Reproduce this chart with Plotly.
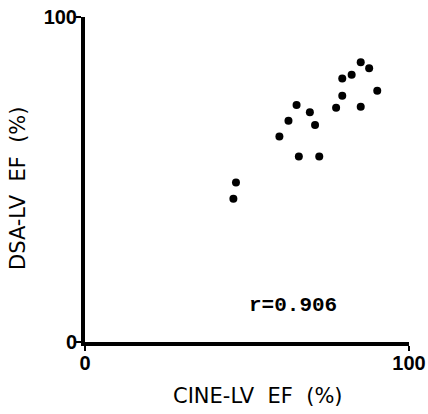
import plotly.graph_objects as go

cine_ef = [85.1, 87.7, 82.3, 79.4, 90.2, 79.4, 77.5, 85.1, 65.3, 69.4, 62.8, 71.0, 60.0, 66.0, 72.3, 46.6, 45.8]
dsa_ef = [86.1, 84.2, 82.2, 81.1, 77.3, 75.8, 72.1, 72.4, 72.9, 70.7, 68.1, 66.8, 63.2, 57.1, 57.1, 49.1, 44.1]
tick_vals = [0, 100]
tick_text = ["0", "100"]
r_label = "r=0.906"
x_title = "CINE-LV  EF  (%)"
y_title = "DSA-LV  EF  (%)"

tick_font = dict(family="Liberation Sans Narrow, Liberation Sans, Arial", size=20, color="black", weight="bold")
title_font = dict(family="DejaVu Sans, Liberation Sans, Arial", size=21, color="black")

fig = go.Figure()
fig.add_trace(go.Scatter(
    x=cine_ef, y=dsa_ef, mode="markers",
    marker=dict(color="black", size=8, line=dict(width=0)),
    showlegend=False, cliponaxis=False,
))

axis_common = dict(range=[0, 100], tickvals=tick_vals, ticktext=tick_text,
                   showline=True, linecolor="black", linewidth=4, mirror=False,
                   showgrid=False, zeroline=False, ticks="outside", ticklen=5,
                   tickwidth=2, tickcolor="black", tickfont=tick_font, automargin=False,
                   ticklabelstandoff=-5)

fig.update_layout(
    width=428, height=414,
    margin=dict(l=85, r=19, t=17, b=72, autoexpand=False),
    paper_bgcolor="white", plot_bgcolor="white",
    xaxis=axis_common,
    yaxis=axis_common,
    annotations=[
        dict(text=r_label, xref="paper", yref="paper", x=(293 - 85) / 324, y=(342 - 305) / 325,
             showarrow=False, xanchor="center", yanchor="middle",
             font=dict(family="Liberation Mono, DejaVu Sans Mono", size=21, color="black", weight="bold")),
        dict(text=x_title, xref="paper", yref="paper", x=(258 - 85) / 324, y=(342 - 396) / 325,
             showarrow=False, xanchor="center", yanchor="middle", font=title_font),
        dict(text=y_title, xref="paper", yref="paper", x=(18 - 85) / 324, y=(342 - 188) / 325,
             showarrow=False, xanchor="center", yanchor="middle", textangle=-90, font=title_font),
    ],
)

fig.write_html("out.html", config={"displayModeBar": False},
               post_script="document.body.style.margin='0';")
